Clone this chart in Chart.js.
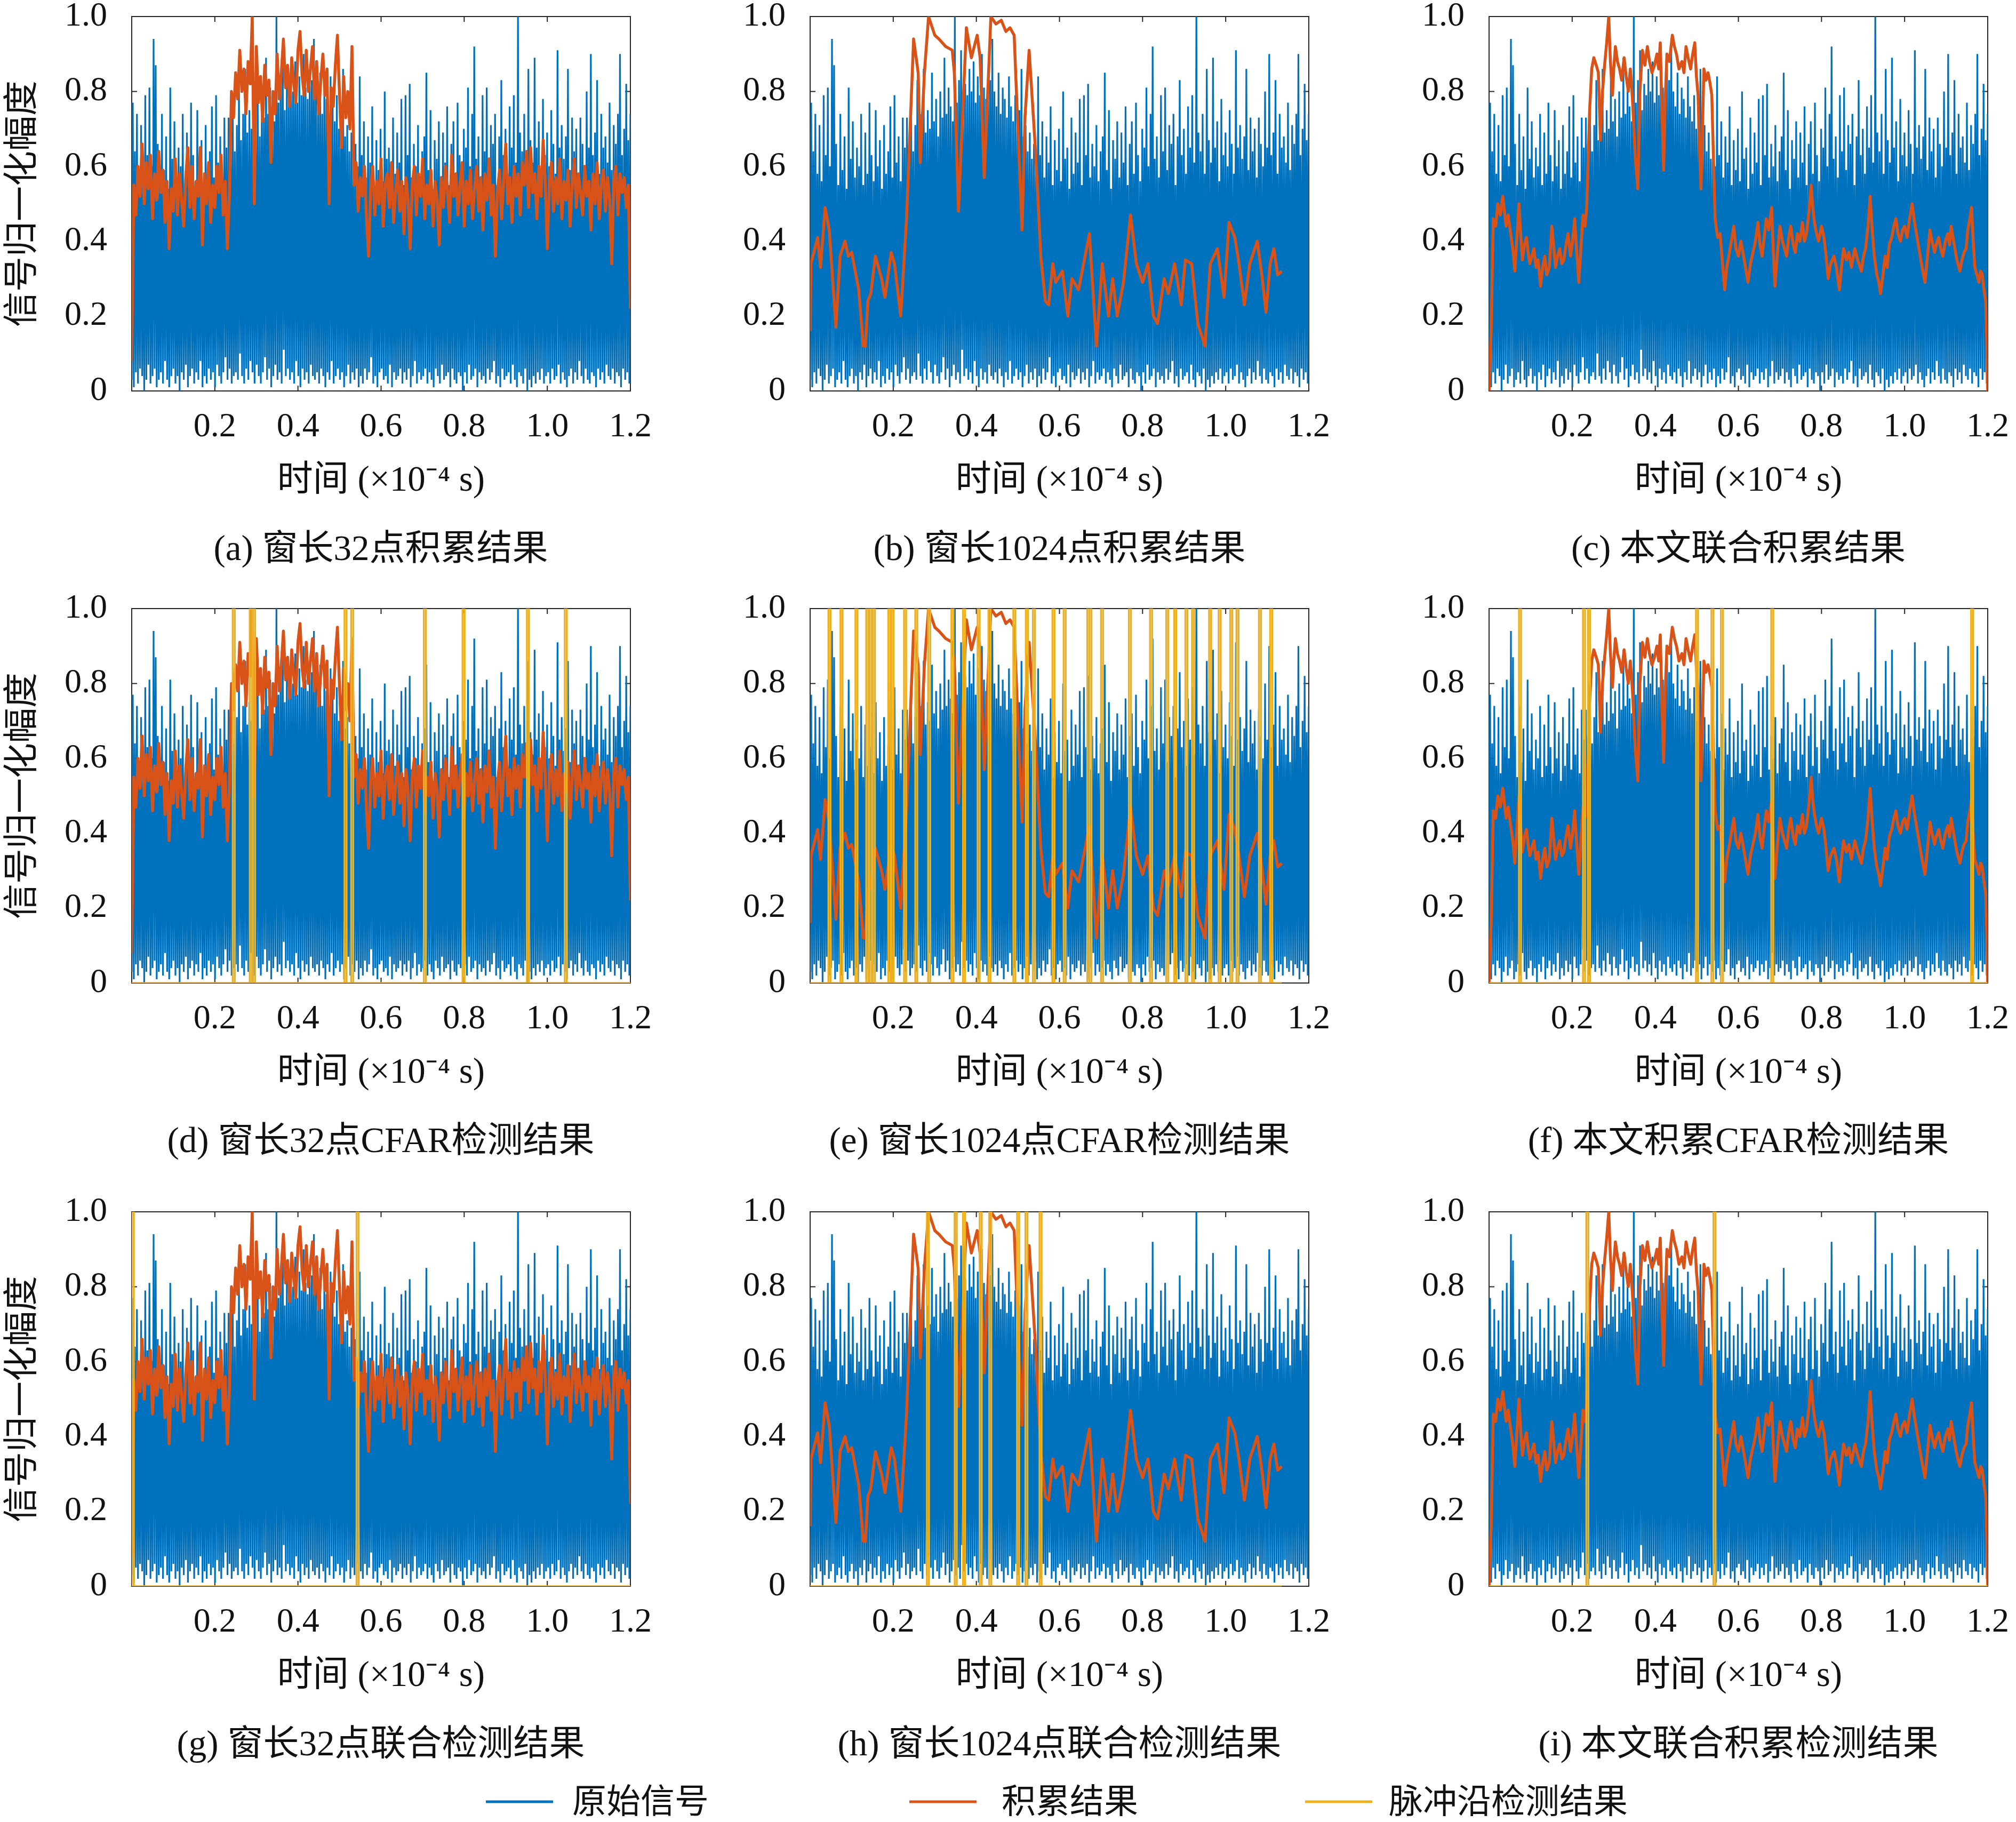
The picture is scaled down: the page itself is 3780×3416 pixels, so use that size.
<!DOCTYPE html>
<html>
<head>
<meta charset="utf-8">
<title>脉冲沿检测结果</title>
<script src="https://cdn.jsdelivr.net/npm/chart.js@4.4.1/dist/chart.umd.min.js"></script>
<style>
    html, body { margin: 0; padding: 0; background: #fff; overflow: hidden; }
    #fig {
        position: relative; width: 3780px; height: 3416px; overflow: hidden;
        font-family: 'Liberation Serif', 'Noto Sans CJK SC', serif; color: #111;
    }
    #fig canvas { position: absolute; }
    .cap {
        position: absolute; font-size: 67px; line-height: 1; white-space: nowrap;
        transform: translate(-50%, -50%);
    }
    .leg-line { position: absolute; height: 5px; width: 126px; transform: translateY(-50%); }
    .leg-text { position: absolute; font-size: 64px; line-height: 1; white-space: nowrap; transform: translateY(-50%); }
</style>
</head>
<body>
<div id="fig"></div>
<script>
// -----------------------------------------------------------------------------
// Data
// -----------------------------------------------------------------------------

const timeSpan = [0, 1.2];
const timeTicks = [0.2, 0.4, 0.6, 0.8, 1.0, 1.2];
const timeTickLabels = ['0.2', '0.4', '0.6', '0.8', '1.0', '1.2'];
const ampTicks = [0, 0.2, 0.4, 0.6, 0.8, 1.0];
const ampTickLabels = ['0', '0.2', '0.4', '0.6', '0.8', '1.0'];

// original signal: peak / floor samples, evenly spaced over timeSpan (interleaved floor, peak)
const signalPeaks = [
    0.77,0.64,0.74,0.58,0.71,0.56,0.79,0.63,0.81,0.60,
    0.94,0.87,0.66,0.55,0.74,0.59,0.68,0.54,0.81,0.62,
    0.72,0.57,0.65,0.60,0.74,0.55,0.69,0.58,0.77,0.63,
    0.56,0.75,0.60,0.67,0.54,0.71,0.58,0.64,0.76,0.57,
    0.79,0.61,0.68,0.56,0.73,0.65,0.73,
    0.66,0.78,0.64,0.71,0.83,0.67,0.74,0.86,0.69,0.75,
    0.70,0.85,0.72,0.78,0.68,0.80,0.73,0.89,0.74,0.81,
    0.76,0.72,1.00,0.77,0.83,0.91,0.75,0.82,0.79,0.86,
    0.80,0.88,0.77,0.84,0.79,0.90,0.81,0.78,0.86,0.83,
    0.94,0.80,0.76,0.85,0.74,0.81,0.78,0.73,0.84,0.76,
    0.72,0.79,0.70,0.75,0.86,0.68,0.71,0.64,0.69,0.62,
    0.66,0.60,0.84,0.63,0.72,0.57,0.68,0.61,0.76,0.55,
    0.67,0.59,0.70,0.56,0.80,0.62,0.65,0.54,0.73,0.58,
    0.69,0.61,0.78,0.55,0.79,0.63,0.82,0.57,0.66,0.60,
    0.71,0.56,0.64,0.68,0.85,0.59,0.75,0.54,0.67,0.62,
    0.72,0.57,0.69,0.61,0.76,0.55,0.66,0.72,0.58,0.77,
    0.63,0.56,0.70,0.65,0.81,0.60,0.74,0.92,0.62,0.68,
    0.57,0.79,0.64,0.81,0.59,0.71,0.66,0.74,0.55,0.68,
    0.83,0.63,0.70,0.58,0.76,0.65,0.79,0.61,1.00,0.69,
    0.64,0.74,0.58,0.86,0.67,0.61,0.89,0.65,0.72,0.56,
    0.78,0.63,0.69,0.60,0.75,0.66,0.58,0.91,0.65,0.71,
    0.62,0.68,0.86,0.59,0.73,0.64,0.70,0.57,0.73,0.66,
    0.60,0.80,0.65,0.90,0.63,0.69,0.83,0.58,0.74,0.65,
    0.68,0.61,0.77,0.59,0.71,0.66,0.74,0.90,0.63,0.70,
    0.82,0.67,0.74,
];
const signalFloor = [
    0.03,0.01,0.05,0.02,0.06,0.04,0.00,0.03,0.07,0.02,
    0.04,0.06,0.01,0.03,0.05,0.02,0.08,0.03,0.01,0.04,
    0.06,0.02,0.04,0.00,0.05,0.03,0.07,0.01,0.04,0.06,
    0.02,0.05,0.03,0.08,0.01,0.04,0.02,0.06,0.03,0.05,
    0.01,0.07,0.04,0.02,0.05,0.09,0.03,0.06,0.02,0.04,
    0.05,0.03,0.10,0.04,0.02,0.06,0.03,0.08,0.05,0.02,
    0.07,0.04,0.02,0.05,0.09,0.03,0.06,0.01,0.04,0.07,
    0.03,0.05,0.02,0.11,0.04,0.06,0.03,0.05,0.02,0.08,
    0.04,0.01,0.06,0.03,0.05,0.02,0.07,0.04,0.03,0.05,
    0.02,0.06,0.04,0.01,0.05,0.03,0.08,0.02,0.04,0.06,
    0.03,0.05,0.01,0.04,0.07,0.02,0.05,0.03,0.06,0.01,
    0.04,0.02,0.06,0.03,0.05,0.09,0.02,0.04,0.01,0.05,
    0.06,0.03,0.04,0.02,0.07,0.01,0.05,0.03,0.04,0.06,
    0.02,0.05,0.03,0.06,0.01,0.04,0.08,0.02,0.05,0.03,
    0.04,0.06,0.02,0.05,0.03,0.01,0.06,0.04,0.02,0.07,
    0.03,0.04,0.05,0.01,0.06,0.03,0.02,0.05,0.04,0.00,
    0.05,0.02,0.07,0.03,0.04,0.06,0.01,0.05,0.03,0.04,
    0.02,0.06,0.03,0.05,0.08,0.02,0.04,0.01,0.06,0.03,
    0.04,0.05,0.02,0.07,0.03,0.01,0.05,0.04,0.02,0.06,
    0.00,0.03,0.01,0.04,0.02,0.05,0.03,0.06,0.02,0.04,
    0.05,0.02,0.06,0.03,0.04,0.07,0.02,0.05,0.03,0.01,
    0.04,0.06,0.02,0.05,0.03,0.08,0.04,0.02,0.06,0.03,
    0.02,0.05,0.04,0.01,0.06,0.03,0.05,0.02,0.07,0.04,
    0.03,0.06,0.02,0.05,0.04,0.01,0.06,0.03,0.05,0.02,
];

// 32-point window accumulation, evenly spaced over timeSpan
const acc32 = [
    0.08,0.55,0.47,0.60,0.52,0.66,0.50,0.61,0.54,0.63,
    0.46,0.58,0.51,0.64,0.53,0.59,0.45,0.56,0.38,0.54,
    0.48,0.62,0.47,0.58,0.51,0.44,0.57,0.65,0.49,0.60,
    0.46,0.56,0.52,0.65,0.39,0.58,0.50,0.61,0.45,0.55,
    0.49,0.60,0.53,0.63,0.47,0.56,0.38,0.52,
    0.80,0.73,0.85,0.78,0.91,0.80,0.86,0.74,0.88,0.82,
    1.00,0.50,0.92,0.77,0.84,0.72,0.87,0.79,0.83,0.61,
    0.80,0.74,0.90,0.78,0.85,0.94,0.81,0.87,0.76,0.89,
    0.82,0.77,0.91,0.96,0.84,0.79,0.91,0.80,0.86,0.92,
    0.78,0.88,0.74,0.83,0.90,0.79,0.86,0.50,0.81,0.76,
    0.87,0.95,0.79,0.65,0.84,0.73,0.80,0.70,0.92,
    0.55,0.61,0.48,0.57,0.52,0.60,0.46,0.36,0.54,0.60,
    0.47,0.56,0.50,0.62,0.44,0.55,0.58,0.49,0.61,0.45,
    0.53,0.59,0.48,0.56,0.42,0.57,0.51,0.38,0.55,0.60,
    0.47,0.58,0.52,0.62,0.46,0.55,0.50,0.59,0.44,0.56,
    0.51,0.39,0.57,0.49,0.60,0.53,0.45,0.63,0.52,0.58,
    0.47,0.55,0.61,0.44,0.56,0.50,0.59,0.46,0.54,0.60,
    0.48,0.57,0.43,0.58,0.51,0.62,0.47,0.55,0.36,0.53,
    0.59,0.46,0.56,0.66,0.50,0.57,0.45,0.60,0.52,0.58,
    0.47,0.61,0.55,0.64,0.49,0.65,0.53,0.58,0.46,0.60,
    0.52,0.67,0.56,0.38,0.55,0.61,0.48,0.57,0.50,0.62,
    0.46,0.56,0.51,0.59,0.44,0.55,0.62,0.49,0.58,0.53,
    0.47,0.60,0.52,0.56,0.43,0.58,0.50,0.61,0.46,0.55,
    0.59,0.48,0.57,0.51,0.34,0.56,0.60,0.47,0.58,0.53,
    0.57,0.49,0.55,0.22,
];

// 1024-point window accumulation
const acc1024T = [
    0,0.002,0.018,0.025,0.036,0.046,0.062,0.072,0.084,0.092,
    0.1,0.117,0.128,0.133,0.139,0.146,0.157,0.172,0.18,0.195,
    0.203,0.218,0.232,0.249,0.26,0.265,0.275,0.285,0.3,0.31,
    0.318,0.326,0.342,0.347,0.357,0.376,0.388,0.402,0.409,0.419,
    0.435,0.447,0.46,0.471,0.481,0.491,0.5,0.51,0.517,0.527,
    0.543,0.555,0.566,0.574,0.584,0.591,0.607,0.62,0.63,0.646,
    0.672,0.689,0.703,0.718,0.728,0.739,0.754,0.771,0.785,0.8,
    0.813,0.826,0.836,0.852,0.862,0.877,0.893,0.903,0.918,0.933,
    0.95,0.963,0.98,0.996,1.008,1.022,1.032,1.045,1.058,1.076,
    1.087,1.097,1.107,1.116,1.125,1.135,
];
const acc1024V = [
    0.16,0.34,0.41,0.33,0.49,0.43,0.17,0.36,0.40,0.36,
    0.37,0.27,0.12,0.12,0.24,0.26,0.36,0.30,0.25,0.37,
    0.34,0.20,0.46,0.94,0.85,0.61,0.85,1.00,0.95,0.94,
    0.93,0.92,0.91,0.85,0.48,0.97,0.89,0.95,0.89,0.57,
    1.00,0.98,0.99,0.96,0.97,0.95,0.70,0.43,0.73,0.91,
    0.63,0.36,0.24,0.23,0.34,0.29,0.32,0.20,0.30,0.27,
    0.42,0.12,0.34,0.20,0.30,0.20,0.29,0.47,0.34,0.29,
    0.34,0.20,0.18,0.30,0.26,0.34,0.23,0.35,0.34,0.18,
    0.12,0.34,0.38,0.25,0.45,0.41,0.34,0.23,0.34,0.40,
    0.31,0.21,0.34,0.38,0.31,0.32,
];

// proposed joint accumulation
const accJointT = [
    0,0.005,0.01,0.016,0.021,0.027,0.033,0.037,0.041,0.046,
    0.052,0.057,0.062,0.067,0.072,0.076,0.08,0.085,0.09,0.094,
    0.098,0.103,0.108,0.113,0.118,0.124,0.129,0.134,0.139,0.145,
    0.151,0.156,0.16,0.165,0.17,0.175,0.18,0.185,0.19,0.196,
    0.201,0.206,0.211,0.216,0.221,0.226,0.231,0.235,0.242,0.247,
    0.252,0.258,0.263,0.268,0.273,0.278,0.283,0.288,0.292,0.297,
    0.3,0.304,0.309,0.314,0.319,0.325,0.33,0.335,0.34,0.345,
    0.352,0.358,0.363,0.369,0.375,0.381,0.386,0.392,0.398,0.404,
    0.408,0.412,0.416,0.42,0.424,0.428,0.434,0.441,0.446,0.451,
    0.457,0.464,0.469,0.474,0.479,0.485,0.49,0.495,0.499,0.503,
    0.507,0.51,0.514,0.517,0.522,0.527,0.532,0.536,0.54,0.544,
    0.55,0.556,0.561,0.567,0.572,0.577,0.583,0.589,0.594,0.6,
    0.606,0.611,0.617,0.623,0.629,0.635,0.641,0.647,0.652,0.657,
    0.662,0.667,0.673,0.68,0.684,0.688,0.694,0.7,0.706,0.711,
    0.716,0.721,0.726,0.732,0.737,0.742,0.748,0.754,0.759,0.764,
    0.77,0.775,0.779,0.783,0.788,0.793,0.8,0.806,0.811,0.816,
    0.822,0.83,0.836,0.843,0.848,0.853,0.86,0.866,0.872,0.88,
    0.887,0.896,0.901,0.906,0.912,0.917,0.922,0.927,0.933,0.938,
    0.942,0.948,0.953,0.958,0.963,0.969,0.974,0.979,0.984,0.99,
    0.995,1.0,1.006,1.012,1.018,1.024,1.03,1.036,1.042,1.049,
    1.055,1.061,1.066,1.072,1.076,1.082,1.087,1.092,1.098,1.104,
    1.108,1.112,1.118,1.124,1.128,1.133,1.138,1.143,1.148,1.152,
    1.157,1.161,1.165,1.169,1.174,1.179,1.183,1.187,1.191,1.195,
    1.198,1.2,
];
const accJointV = [
    0.00,0.16,0.46,0.44,0.50,0.47,0.52,0.48,0.44,0.47,
    0.42,0.38,0.32,0.41,0.50,0.42,0.35,0.39,0.41,0.37,
    0.34,0.36,0.38,0.33,0.35,0.28,0.33,0.36,0.31,0.33,
    0.44,0.38,0.33,0.36,0.38,0.34,0.35,0.39,0.42,0.36,
    0.40,0.46,0.37,0.29,0.38,0.47,0.44,0.49,0.75,0.86,
    0.89,0.87,0.85,0.67,0.80,0.87,0.93,1.00,0.88,0.79,
    0.86,0.92,0.88,0.86,0.83,0.89,0.84,0.80,0.86,0.78,
    0.62,0.54,0.80,0.91,0.87,0.92,0.88,0.85,0.87,0.90,
    0.86,0.93,0.75,0.59,0.78,0.90,0.88,0.95,0.92,0.90,
    0.86,0.88,0.85,0.92,0.89,0.86,0.90,0.93,0.84,0.79,
    0.63,0.54,0.72,0.86,0.83,0.85,0.82,0.79,0.62,0.46,
    0.41,0.42,0.35,0.27,0.33,0.36,0.40,0.44,0.38,0.36,
    0.40,0.37,0.33,0.29,0.34,0.37,0.40,0.45,0.39,0.36,
    0.41,0.46,0.43,0.49,0.37,0.28,0.37,0.44,0.40,0.38,
    0.36,0.41,0.44,0.39,0.37,0.42,0.40,0.45,0.40,0.42,
    0.48,0.55,0.49,0.45,0.42,0.40,0.44,0.41,0.36,0.30,
    0.34,0.36,0.33,0.27,0.33,0.38,0.35,0.37,0.33,0.38,
    0.35,0.32,0.36,0.38,0.44,0.52,0.43,0.36,0.31,0.29,
    0.26,0.31,0.36,0.33,0.39,0.41,0.44,0.46,0.42,0.40,
    0.43,0.44,0.41,0.46,0.50,0.45,0.41,0.37,0.33,0.29,
    0.36,0.43,0.40,0.37,0.39,0.41,0.38,0.36,0.40,0.42,
    0.39,0.44,0.40,0.36,0.34,0.32,0.35,0.37,0.38,0.43,
    0.46,0.49,0.40,0.33,0.31,0.29,0.32,0.31,0.27,0.24,
    0.12,0.00,
];

// detected pulse edges (time of each 0 -> 1 -> 0 pulse)
const edgesCfar32 = [0.243, 0.284, 0.292, 0.512, 0.528, 0.703, 0.796, 0.951, 1.042];
const edgesCfar1024 = [
    0.044, 0.073, 0.109, 0.135, 0.143, 0.151, 0.188, 0.196, 0.226, 0.253,
    0.284, 0.340, 0.368, 0.403, 0.429, 0.489, 0.519, 0.536, 0.583, 0.610,
    0.667, 0.672, 0.700, 0.767, 0.818, 0.857, 0.876, 0.903, 0.919, 0.960,
    0.983, 1.011, 1.026, 1.080, 1.107,
];
const edgesCfarJoint = [0.072, 0.226, 0.238, 0.498, 0.535, 0.558, 0.679, 1.160];
const edgesJoint32 = [0.0, 0.541];
const edgesJoint1024 = [0.281, 0.348, 0.368, 0.408, 0.431, 0.498, 0.518, 0.552];
const edgesJointOurs = [0.234, 0.540];

const captions = [
    '(a) 窗长32点积累结果', '(b) 窗长1024点积累结果', '(c) 本文联合积累结果',
    '(d) 窗长32点CFAR检测结果', '(e) 窗长1024点CFAR检测结果', '(f) 本文积累CFAR检测结果',
    '(g) 窗长32点联合检测结果', '(h) 窗长1024点联合检测结果', '(i) 本文联合积累检测结果',
];
const legendLabels = ['原始信号', '积累结果', '脉冲沿检测结果'];

// -----------------------------------------------------------------------------
// Style / layout
// -----------------------------------------------------------------------------

const FONT = "'Liberation Serif', 'Noto Sans CJK SC', serif";
const BLUE = '#0072BD', ORANGE = '#D95319', YELLOW = '#EDB120', AXIS = '#262626';

const COL_LEFT = [246.5, 1519, 2792];
const ROW_TOP = [31, 1141, 2272];
const PLOT_W = 935, PLOT_H = 702;
const AXIS_W = 246, AXIS_H = 220, PAD_TOP = 90, PAD_RIGHT = 76;
const TICK = 10;
const PULSE_W = 0.005;

Chart.defaults.font.family = FONT;
Chart.defaults.font.size = 64;
Chart.defaults.color = '#111';

// -----------------------------------------------------------------------------
// Series builders
// -----------------------------------------------------------------------------

function _signalPoints() {
    const n = Math.min(signalPeaks.length, signalFloor.length);
    const step = (timeSpan[1] - timeSpan[0]) / (2 * n - 1);
    const pts = [];
    for (let i = 0; i < n; i++) {
        pts.push({ x: timeSpan[0] + 2 * i * step, y: signalFloor[i] });
        pts.push({ x: timeSpan[0] + (2 * i + 1) * step, y: signalPeaks[i] });
    }
    return pts;
}

function _evenPoints(values) {
    const step = (timeSpan[1] - timeSpan[0]) / (values.length - 1);
    return values.map((v, i) => ({ x: timeSpan[0] + i * step, y: v }));
}

function _pairPoints(ts, vs) {
    const n = Math.min(ts.length, vs.length);
    const pts = [];
    for (let i = 0; i < n; i++) pts.push({ x: ts[i], y: vs[i] });
    return pts;
}

function _pulsePoints(edges, end) {
    const pts = [{ x: timeSpan[0], y: 0 }];
    for (const e of edges) {
        pts.push({ x: e, y: 0 }, { x: e, y: 1 }, { x: e + PULSE_W, y: 1 }, { x: e + PULSE_W, y: 0 });
    }
    pts.push({ x: end, y: 0 });
    return pts;
}

const signalPts = _signalPoints();
const accSeries = {
    w32: _evenPoints(acc32),
    w1024: _pairPoints(acc1024T, acc1024V),
    joint: _pairPoints(accJointT, accJointV),
};
const end1024 = acc1024T[acc1024T.length - 1];

const panels = [
    { acc: 'w32', edges: null },
    { acc: 'w1024', edges: null },
    { acc: 'joint', edges: null },
    { acc: 'w32', edges: edgesCfar32, end: timeSpan[1] },
    { acc: 'w1024', edges: edgesCfar1024, end: end1024 },
    { acc: 'joint', edges: edgesCfarJoint, end: timeSpan[1] },
    { acc: 'w32', edges: edgesJoint32, end: timeSpan[1] },
    { acc: 'w1024', edges: edgesJoint1024, end: end1024 },
    { acc: 'joint', edges: edgesJointOurs, end: timeSpan[1] },
];

// -----------------------------------------------------------------------------
// MATLAB-like box with inward ticks, drawn under the data
// -----------------------------------------------------------------------------

const boxPlugin = {
    id: 'matlabBox',
    beforeDatasetsDraw(chart) {
        const { ctx, chartArea: a, scales: { x, y } } = chart;
        ctx.save();
        ctx.strokeStyle = AXIS;
        ctx.lineWidth = 2;
        ctx.beginPath();
        for (const v of timeTicks) {
            const px = x.getPixelForValue(v);
            ctx.moveTo(px, a.bottom); ctx.lineTo(px, a.bottom - TICK);
            ctx.moveTo(px, a.top); ctx.lineTo(px, a.top + TICK);
        }
        for (const v of ampTicks) {
            const py = y.getPixelForValue(v);
            ctx.moveTo(a.left, py); ctx.lineTo(a.left + TICK, py);
            ctx.moveTo(a.right, py); ctx.lineTo(a.right - TICK, py);
        }
        ctx.stroke();
        ctx.strokeRect(a.left, a.top, a.right - a.left, a.bottom - a.top);
        ctx.restore();
    },
};

// -----------------------------------------------------------------------------
// Build the figure
// -----------------------------------------------------------------------------

const fig = document.getElementById('fig');

function _addText(cls, text, left, top) {
    const d = document.createElement('div');
    d.className = cls;
    d.textContent = text;
    d.style.left = left + 'px';
    d.style.top = top + 'px';
    fig.appendChild(d);
    return d;
}

panels.forEach((p, idx) => {
    const col = idx % 3, row = Math.floor(idx / 3);
    const canvas = document.createElement('canvas');
    const w = AXIS_W + PLOT_W + PAD_RIGHT, h = PAD_TOP + PLOT_H + AXIS_H;
    canvas.width = w; canvas.height = h;
    canvas.style.width = w + 'px'; canvas.style.height = h + 'px';
    canvas.style.left = (COL_LEFT[col] - AXIS_W) + 'px';
    canvas.style.top = (ROW_TOP[row] - PAD_TOP) + 'px';
    fig.appendChild(canvas);

    const datasets = [
        {
            data: signalPts, borderColor: BLUE, borderWidth: 3.2, pointRadius: 0,
            fill: false, tension: 0, order: 2,
        },
        {
            data: accSeries[p.acc], borderColor: ORANGE, borderWidth: 5.5, pointRadius: 0,
            fill: false, tension: 0, borderJoinStyle: 'round', order: 1,
        },
    ];
    if (p.edges) {
        datasets.push({
            data: _pulsePoints(p.edges, p.end), borderColor: YELLOW, borderWidth: 3.5,
            pointRadius: 0, fill: false, tension: 0, order: 0,
        });
    }

    new Chart(canvas, {
        type: 'line',
        data: { datasets },
        plugins: [boxPlugin],
        options: {
            responsive: false, animation: false, events: [], normalized: true,
            layout: { padding: { top: PAD_TOP, right: PAD_RIGHT, left: 0, bottom: 0 } },
            plugins: { legend: { display: false }, tooltip: { enabled: false } },
            scales: {
                x: {
                    type: 'linear', min: timeSpan[0], max: timeSpan[1],
                    grid: { display: false, drawTicks: false }, border: { display: false },
                    afterBuildTicks: s => { s.ticks = timeTicks.map(v => ({ value: v })); },
                    afterFit: s => { s.height = AXIS_H; },
                    ticks: {
                        padding: 30, maxRotation: 0, autoSkip: false,
                        callback: (v, i) => timeTickLabels[i],
                    },
                    title: {
                        display: true, text: '时间 (×10⁻⁴ s)',
                        padding: { top: 0, bottom: 10 }, font: { size: 67, lineHeight: 1.2 },
                    },
                },
                y: {
                    type: 'linear', min: 0, max: 1,
                    grid: { display: false, drawTicks: false }, border: { display: false },
                    afterBuildTicks: s => { s.ticks = ampTicks.map(v => ({ value: v })); },
                    afterFit: s => { s.width = AXIS_W; },
                    ticks: { padding: 46, autoSkip: false, callback: (v, i) => ampTickLabels[i] },
                    title: {
                        display: col === 0, text: '信号归一化幅度',
                        padding: { top: 4, bottom: 0 }, font: { size: 66, lineHeight: 1.2 },
                    },
                },
            },
        },
    });

    _addText('cap', captions[idx], COL_LEFT[col] + PLOT_W / 2, ROW_TOP[row] + PLOT_H + 294);
});

// shared legend along the bottom
const legendColors = [BLUE, ORANGE, YELLOW];
const legendLineX = [911, 1705, 2447];
const legendTextX = [1073, 1878, 2604];
const LEGEND_Y = 3378;
legendLabels.forEach((label, i) => {
    const line = document.createElement('div');
    line.className = 'leg-line';
    line.style.left = legendLineX[i] + 'px';
    line.style.top = LEGEND_Y + 'px';
    line.style.background = legendColors[i];
    fig.appendChild(line);
    _addText('leg-text', label, legendTextX[i], LEGEND_Y);
});
</script>
</body>
</html>
